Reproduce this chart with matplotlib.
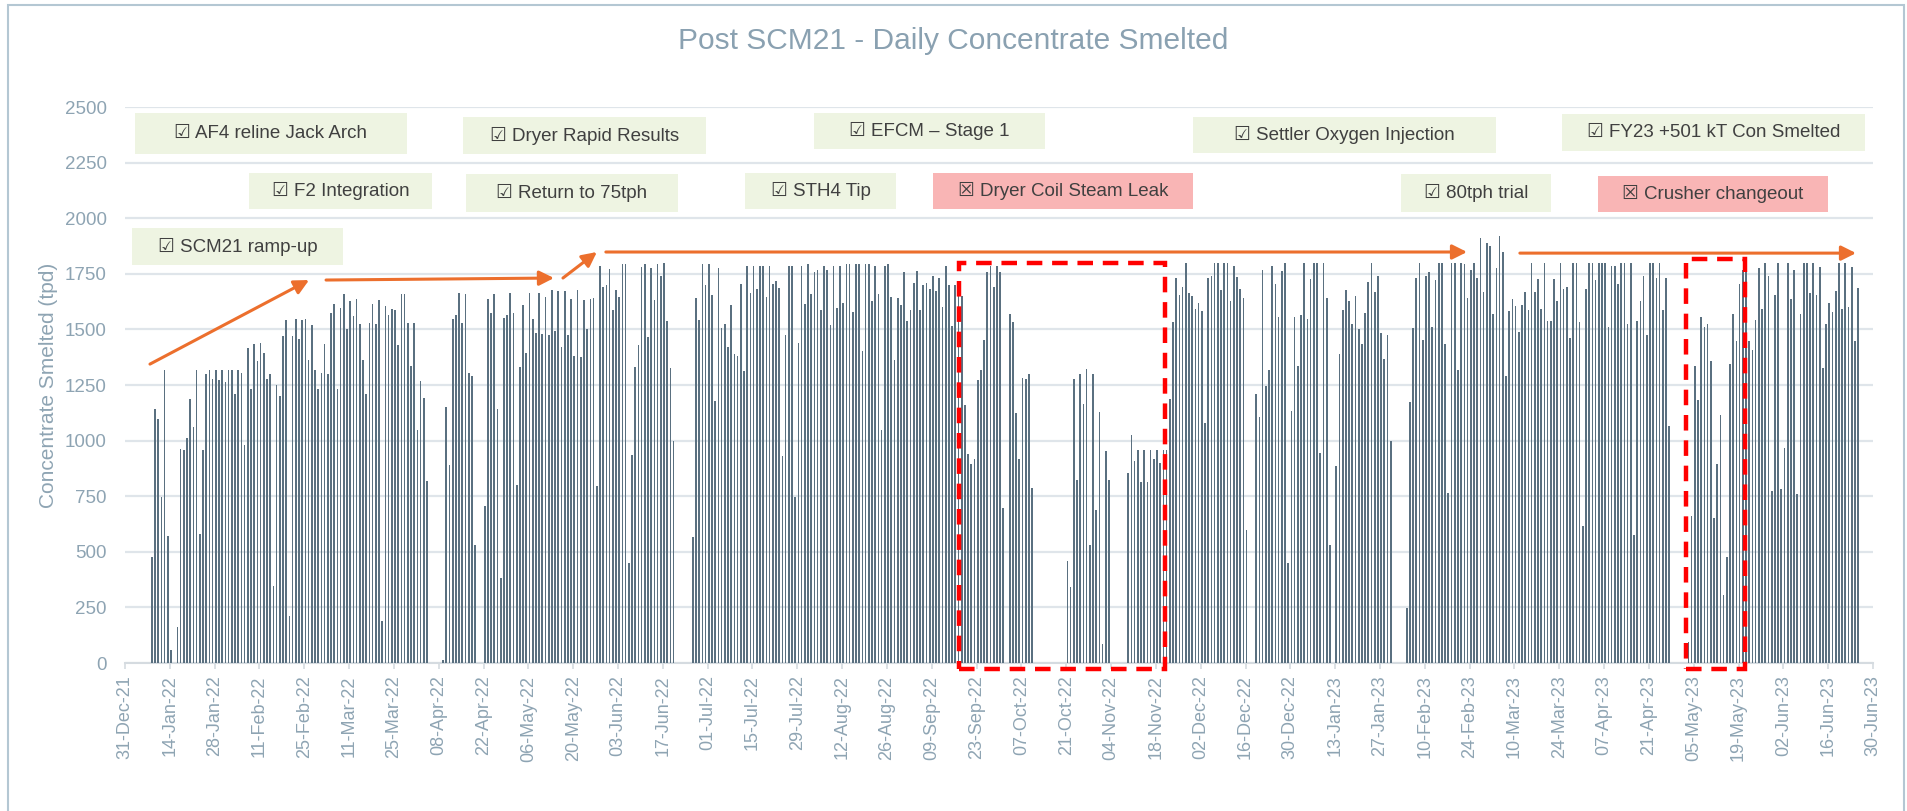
import numpy as np
import pandas as pd
import matplotlib
matplotlib.use("Agg")
import matplotlib.pyplot as plt
from matplotlib.patches import Rectangle

plt.rcParams['font.family'] = ['Liberation Sans', 'DejaVu Sans']

# daily concentrate smelted (tpd), one row per fortnight starting 31-Dec-21
daily_tpd = [
    0, 0, 0, 0, 0, 0, 0, 0, 477, 1144, 1099, 747, 1316, 570,
    58, 0, 163, 960, 957, 1012, 1186, 1061, 1316, 582, 957, 1301, 1316, 1278,
    1316, 1274, 1316, 1263, 1316, 1316, 1208, 1316, 1304, 979, 1416, 1233, 1436, 1356,
    1439, 1394, 1278, 1301, 346, 1248, 1199, 1470, 1543, 213, 1470, 1545, 1458, 1543,
    1548, 1361, 1518, 1319, 1233, 1305, 1436, 1301, 1573, 1612, 1233, 1597, 1660, 1500,
    1626, 1560, 1635, 1525, 1361, 1208, 1528, 1615, 1525, 1633, 190, 1603, 1566, 1593,
    1585, 1431, 1660, 1660, 1530, 1335, 1530, 1046, 1268, 1192, 819, 0, 0, 0,
    0, 13, 1151, 892, 1545, 1566, 1663, 1530, 1660, 1304, 1289, 530, 0, 0,
    705, 1635, 1575, 1660, 1141, 380, 1551, 1566, 1663, 1573, 802, 1331, 1611, 1395,
    1663, 1548, 1484, 1663, 1478, 1645, 1473, 1678, 1491, 1672, 1421, 1672, 1473, 1635,
    1379, 1678, 1376, 1630, 1500, 1638, 1641, 796, 1783, 1690, 1698, 1772, 1588, 1678,
    1645, 1792, 1792, 448, 934, 1331, 1428, 1780, 1792, 1466, 1775, 1630, 1792, 1738,
    1798, 1537, 1326, 997, 0, 0, 0, 0, 0, 567, 1641, 1543, 1792, 1701,
    1792, 1653, 1178, 1775, 1506, 1525, 1421, 1611, 1391, 1379, 1705, 1313, 1783, 1663,
    1783, 1683, 1783, 1787, 1645, 1783, 1705, 1717, 1686, 930, 1473, 1783, 1783, 747,
    1440, 1787, 1612, 1792, 1660, 1757, 1769, 1585, 1787, 1769, 1518, 1787, 1597, 1787,
    1620, 1792, 1792, 1578, 1792, 1792, 1403, 1792, 1792, 1627, 1787, 1660, 1049, 1787,
    1792, 1645, 1361, 1641, 1608, 1757, 1537, 1588, 1710, 1762, 1588, 1698, 1710, 1683,
    1740, 1672, 1732, 1600, 1783, 1698, 1515, 1698, 1698, 1650, 1162, 939, 897, 919,
    1271, 1319, 1451, 1757, 1787, 1690, 1787, 1760, 699, 0, 1570, 1533, 1126, 919,
    1283, 1275, 1298, 787, 0, 0, 0, 0, 0, 0, 0, 0, 0, 0,
    460, 340, 1275, 825, 1301, 1166, 1323, 530, 1298, 687, 1129, 84, 954, 822,
    0, 0, 0, 0, 0, 855, 1027, 907, 957, 814, 957, 814, 957, 919,
    957, 901, 957, 957, 1186, 1533, 1732, 1653, 1690, 1798, 1663, 1648, 1593, 1618,
    1581, 1081, 1732, 1738, 1798, 1798, 1678, 1798, 1798, 1627, 1783, 1735, 1683, 1641,
    597, 0, 0, 1208, 1106, 1765, 1244, 1319, 1783, 1705, 1555, 1762, 1798, 448,
    1132, 1555, 1335, 1563, 1798, 1548, 1728, 1798, 1798, 942, 1798, 1641, 530, 0,
    885, 1391, 1585, 1678, 1627, 1525, 1648, 1503, 1436, 1575, 1713, 1798, 1668, 1738,
    1484, 1368, 1476, 998, 0, 0, 0, 0, 246, 1174, 1506, 1732, 1798, 1451,
    1738, 1760, 1513, 1720, 1798, 1798, 1433, 766, 1798, 1798, 1319, 1798, 1795, 1641,
    1769, 1798, 1732, 1910, 1668, 1888, 1875, 1570, 1775, 1920, 1847, 1289, 1581, 1635,
    1603, 1488, 1611, 1668, 1585, 1798, 1668, 1728, 1593, 1798, 1537, 1537, 1728, 1627,
    1798, 1683, 1690, 1463, 1798, 1798, 1533, 615, 1683, 1798, 1798, 1723, 1798, 1798,
    1798, 1513, 1783, 1783, 1705, 1798, 1798, 1525, 1798, 575, 1537, 1627, 1740, 1473,
    1798, 1798, 1732, 1798, 1585, 1732, 1064, 0, 0, 0, 0, 0, 95, 662,
    1335, 1181, 1555, 1510, 1525, 1358, 650, 897, 1117, 305, 478, 1343, 1570, 1448,
    1705, 1765, 1765, 1448, 1406, 1543, 1775, 1593, 1798, 1738, 772, 1656, 1798, 784,
    967, 1798, 1635, 1768, 762, 1570, 1798, 1798, 1663, 1798, 1656, 1780, 1326, 1525,
    1618, 1578, 1672, 1798, 1593, 1798, 1600, 1780, 1448, 1686, 0, 0, 0, 0,
]
start_date = '2021-12-31'
end_date = '2023-06-30'
tick_dates = pd.date_range(start_date, end_date, freq='14D')
y_ticks = list(range(0, 2501, 250))

# annotation boxes: label, fill, (x0, x1, y0, y1) in figure pixels
events = [
    ('\u2611 AF4 reline Jack Arch', 'g', (135, 407, 113, 154)),
    ('\u2611 Dryer Rapid Results', 'g', (463, 706, 117, 154)),
    ('\u2611 EFCM \u2013 Stage 1', 'g', (814, 1045, 113, 149)),
    ('\u2611 Settler Oxygen Injection', 'g', (1193, 1496, 117, 153)),
    ('\u2611 FY23 +501 kT Con Smelted', 'g', (1562, 1865, 114, 151)),
    ('\u2611 F2 Integration', 'g', (249, 432, 173, 209)),
    ('\u2611 Return to 75tph', 'g', (466, 678, 174, 212)),
    ('\u2611 STH4 Tip', 'g', (745, 896, 173, 209)),
    ('\u2612 Dryer Coil Steam Leak', 'r', (933, 1193, 173, 209)),
    ('\u2611 80tph trial', 'g', (1401, 1551, 174, 212)),
    ('\u2612 Crusher changeout', 'r', (1598, 1828, 176, 212)),
    ('\u2611 SCM21 ramp-up', 'g', (132, 343, 228, 265)),
]
# trend arrows (day index, tpd): start -> end
arrows = [
    ((7.8, 1344), (57.5, 1722)),
    ((62.8, 1722), (134, 1731)),
    ((136.8, 1731), (147.4, 1848)),
    ((150.2, 1848), (419.2, 1848)),
    ((435.7, 1843), (540.7, 1843)),
]
# outage windows (day start, day end, top tpd)
outages = [(260.5, 324.8, 1798), (487.6, 506.0, 1817)]

W, H = 1907, 811
fig = plt.figure(figsize=(W / 100, H / 100), dpi=100)
ax = fig.add_axes([125 / W, 1 - 663 / H, (1873 - 125) / W, (663 - 107) / H])

tick_col = '#8ea4b3'
grid_col = '#dfe5ea'

days = np.arange(len(daily_tpd))
ax.bar(days + 0.35, daily_tpd, width=0.52, color='#5a7080', linewidth=0, zorder=3)

ax.set_xlim(0, (pd.Timestamp(end_date) - pd.Timestamp(start_date)).days)
ax.set_ylim(0, 2500)
ax.set_yticks(y_ticks)
ax.set_xticks([(d - pd.Timestamp(start_date)).days for d in tick_dates])
ax.set_xticklabels([d.strftime('%d-%b-%y') for d in tick_dates], rotation=90)
ax.tick_params(axis='y', length=0, pad=13, labelsize=13.5, labelcolor=tick_col)
ax.tick_params(axis='x', length=4, width=1.2, color='#d5dbe0', pad=5,
               labelsize=13, labelcolor=tick_col)
ax.grid(axis='y', color=grid_col, lw=1.6, zorder=0)
for s in ['top', 'right', 'left']:
    ax.spines[s].set_visible(False)
ax.spines['bottom'].set_color('#d5dbe0')
ax.spines['bottom'].set_linewidth(1.5)
ax.set_ylabel('Concentrate Smelted (tpd)', fontsize=15, color=tick_col, labelpad=5)

fig.text(0.5, 1 - 41 / H, 'Post SCM21 - Daily Concentrate Smelted', ha='center', va='center',
         fontsize=21.5, color='#8aa1b1')

for (x0, y0), (x1, y1) in arrows:
    ax.annotate('', xy=(x1, y1), xytext=(x0, y0),
                arrowprops=dict(arrowstyle='-|>', color='#ec6f2d', lw=2.2,
                                mutation_scale=22, shrinkA=0, shrinkB=0),
                annotation_clip=False, zorder=5)

for a, b, top in outages:
    ax.add_patch(Rectangle((a, -27), b - a, top + 27, fill=False, ec='#ff0000', lw=3.2,
                           ls=(0, (3.5, 2.2)), clip_on=False, zorder=6))

fills = {'g': '#eef4e2', 'r': '#f9b5b5'}
for label, kind, (x0, x1, y0, y1) in events:
    fig.add_artist(Rectangle((x0 / W, 1 - y1 / H), (x1 - x0) / W, (y1 - y0) / H,
                             transform=fig.transFigure, fc=fills[kind], ec='none', zorder=4))
    fig.text((x0 + x1) / 2 / W, 1 - (y0 + y1) / 2 / H, label, ha='center', va='center',
             fontsize=13.5, color='#404040', zorder=5)

fig.add_artist(Rectangle((8 / W, -0.02), (1904 - 8) / W, 1.02 - 5 / H, transform=fig.transFigure,
                         fill=False, ec='#b4c7d3', lw=1.5))

fig.savefig('out.png', dpi=100)
